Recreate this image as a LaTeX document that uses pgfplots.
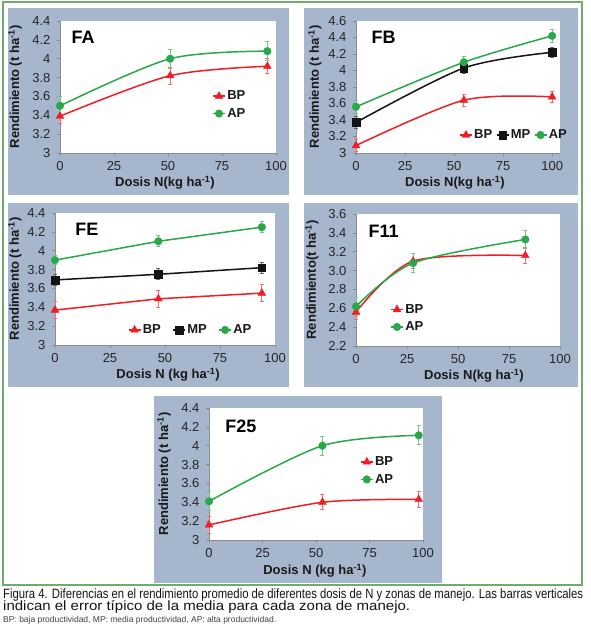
\documentclass[border=0pt]{standalone}
\usepackage{fontspec}
\setmainfont{Liberation Sans}
\usepackage{graphicx}
\usepackage{pgfplots}
\pgfplotsset{compat=1.18}

\definecolor{panelbg}{RGB}{165,182,205}
\definecolor{frameg}{RGB}{112,172,112}
\definecolor{redc}{RGB}{238,30,36}
\definecolor{greenc}{RGB}{40,168,72}
\definecolor{blackc}{RGB}{20,20,20}

\pgfplotsset{
  panel/.style={
    scale only axis, height=132pt, xmin=0, clip=false,
    axis background/.style={fill=white},
    axis lines*=left,
    axis line style={draw=black!45, line width=0.8pt, -},
    tick style={draw=black!45, line width=0.6pt},
    tick align=outside, major tick length=3pt,
    xtick={0,25,50,75,100},
    /pgf/number format/assume math mode=true,
    ticklabel style={font=\fontsize{13}{13}\selectfont, text=black!85},
    yticklabel style={xshift=-3pt},
    xticklabel style={yshift=-2pt},
    every axis y label/.style={rotate=90, anchor=center,
      font=\bfseries\fontsize{13}{13}\selectfont, text=black!90},
    every axis x label/.style={anchor=center,
      font=\bfseries\fontsize{13}{13}\selectfont, text=black!90},
    legend style={draw=none, fill=none, font=\bfseries\fontsize{13}{13}\selectfont,
      text=black!90, inner sep=0pt, row sep=5pt,
      nodes={inner xsep=1.5pt, inner ysep=1pt}},
    legend cell align=left,
    legend image code/.code={\draw[mark repeat=2,mark phase=2]
      plot coordinates {(0pt,0pt) (6pt,0pt) (12pt,0pt)};},
  },
  eb/.style={error bars/y dir=both, error bars/y explicit,
    error bars/error bar style={#1!65, line width=0.9pt},
    error bars/error mark options={#1!65, rotate=90, mark size=2pt, line width=0.9pt}},
  bp/.style={redc, line width=1.5pt, mark=triangle*, mark size=4.5pt,
    mark options={solid, line width=0.4pt}, eb=redc},
  mp/.style={blackc, line width=1.5pt, mark=square*, mark size=3.8pt,
    mark options={solid, line width=0.4pt}, eb=blackc},
  ap/.style={greenc, line width=1.5pt, mark=*, mark size=3.8pt,
    mark options={solid, line width=0.4pt}, eb=greenc},
}

\newcommand{\ttl}[1]{{\bfseries\fontsize{18}{18}\selectfont #1}}
\newcommand{\ylab}{Rendimiento (t ha\textsuperscript{-1})}

\begin{document}
\begin{tikzpicture}
\path[use as bounding box] (0pt,0pt) rectangle (590pt,637pt);
\fill[white] (0pt,0pt) rectangle (590pt,637pt);
\draw[frameg, line width=1.5pt] (3pt,52pt) rectangle (582pt,635pt);

% panel backgrounds
\fill[panelbg] (8pt,442pt) rectangle (289pt,629pt);
\fill[panelbg] (304pt,442pt) rectangle (578pt,629pt);
\fill[panelbg] (8pt,250pt) rectangle (289pt,434pt);
\fill[panelbg] (304pt,250pt) rectangle (578pt,434pt);
\fill[panelbg] (154pt,54pt) rectangle (442pt,241pt);

% FA
\begin{axis}[panel, at={(60pt,484pt)}, anchor=south west, width=216pt,
  xmax=100, ymin=3, ymax=4.4, ytick={3,3.2,3.4,3.6,3.8,4,4.2,4.4},
  xlabel={Dosis N(kg ha\textsuperscript{-1})}, ylabel={\ylab},
  xlabel style={at={(axis description cs:0.486,-0.227)}},
  ylabel style={at={(axis description cs:-0.208,0.5)}},
  legend style={at={(0.704,0.365)}, anchor=west}]
\addplot[bp, smooth] coordinates {(0,3.39) +- (0,0.08) (51,3.82) +- (0,0.09) (96,3.92) +- (0,0.08)};
\addlegendentry{BP}
\addplot[ap, smooth] coordinates {(0,3.50) +- (0,0.10) (51,4.00) +- (0,0.10) (96,4.08) +- (0,0.10)};
\addlegendentry{AP}
\node[anchor=west] at (rel axis cs:0.037,0.879) {\ttl{FA}};
\end{axis}

% FB
\begin{axis}[panel, at={(356pt,484pt)}, anchor=south west, width=204pt,
  xmax=104, ymin=3, ymax=4.6, ytick={3,3.2,3.4,3.6,3.8,4,4.2,4.4,4.6},
  xlabel={Dosis N(kg ha\textsuperscript{-1})}, ylabel={\ylab},
  xlabel style={at={(axis description cs:0.485,-0.227)}},
  ylabel style={at={(axis description cs:-0.201,0.5)}},
  legend columns=3, legend style={at={(0.505,0.136)}, anchor=west,
    /tikz/every even column/.append style={column sep=2pt}}]
\addplot[bp, smooth] coordinates {(0,3.09) +- (0,0.07) (55,3.64) +- (0,0.07) (100,3.68) +- (0,0.07)};
\addlegendentry{BP}
\addplot[mp, smooth] coordinates {(0,3.37) +- (0,0.07) (55,4.03) +- (0,0.06) (100,4.22) +- (0,0.06)};
\addlegendentry{MP}
\addplot[ap, smooth] coordinates {(0,3.56) +- (0,0.08) (55,4.10) +- (0,0.07) (100,4.42) +- (0,0.08)};
\addlegendentry{AP}
\node[anchor=west] at (rel axis cs:0.059,0.875) {\ttl{FB}};
\end{axis}

% FE
\begin{axis}[panel, at={(55pt,292pt)}, anchor=south west, width=220pt,
  xmax=100, ymin=3, ymax=4.4, ytick={3,3.2,3.4,3.6,3.8,4,4.2,4.4},
  xlabel={Dosis N (kg ha\textsuperscript{-1})}, ylabel={\ylab},
  xlabel style={at={(axis description cs:0.514,-0.227)}},
  ylabel style={at={(axis description cs:-0.182,0.5)}},
  legend columns=3, legend style={at={(0.33,0.114)}, anchor=west,
    /tikz/every even column/.append style={column sep=10pt}}]
\addplot[bp] coordinates {(0,3.37) +- (0,0.09) (47,3.49) +- (0,0.09) (94,3.55) +- (0,0.09)};
\addlegendentry{BP}
\addplot[mp] coordinates {(0,3.69) +- (0,0.06) (47,3.75) +- (0,0.06) (94,3.82) +- (0,0.06)};
\addlegendentry{MP}
\addplot[ap] coordinates {(0,3.90) +- (0,0.05) (47,4.10) +- (0,0.06) (94,4.25) +- (0,0.06)};
\addlegendentry{AP}
\node[anchor=west] at (rel axis cs:0.077,0.879) {\ttl{FE}};
\end{axis}

% F11
\begin{axis}[panel, at={(356pt,291pt)}, anchor=south west, width=204pt,
  xmax=100, ymin=2.2, ymax=3.6, ytick={2.2,2.4,2.6,2.8,3.0,3.2,3.4,3.6},
  yticklabel style={/pgf/number format/.cd, fixed, fixed zerofill, precision=1},
  xlabel={Dosis N(kg ha\textsuperscript{-1})}, ylabel={Rendimiento(t ha\textsuperscript{-1})},
  xlabel style={at={(axis description cs:0.578,-0.227)}},
  ylabel style={at={(axis description cs:-0.216,0.5)}},
  legend style={at={(0.167,0.21)}, anchor=west}]
\addplot[bp, smooth] coordinates {(0,2.56) +- (0,0.08) (28,3.10) +- (0,0.08) (83,3.16) +- (0,0.08)};
\addlegendentry{BP}
\addplot[ap, smooth] coordinates {(0,2.62) +- (0,0.10) (28,3.08) +- (0,0.10) (83,3.33) +- (0,0.10)};
\addlegendentry{AP}
\node[anchor=west] at (rel axis cs:0.044,0.87) {\ttl{F11}};
\end{axis}

% F25
\begin{axis}[panel, at={(209pt,97pt)}, anchor=south west, width=214pt,
  xmax=100, ymin=3, ymax=4.4, ytick={3,3.2,3.4,3.6,3.8,4,4.2,4.4},
  xlabel={Dosis N (kg ha\textsuperscript{-1})}, ylabel={\ylab},
  xlabel style={at={(axis description cs:0.495,-0.235)}},
  ylabel style={at={(axis description cs:-0.21,0.5)}},
  legend style={at={(0.705,0.525)}, anchor=west}]
\addplot[bp, smooth] coordinates {(0,3.16) +- (0,0.09) (53,3.40) +- (0,0.08) (98,3.43) +- (0,0.09)};
\addlegendentry{BP}
\addplot[ap, smooth] coordinates {(0,3.41) +- (0,0.10) (53,4.00) +- (0,0.10) (98,4.11) +- (0,0.10)};
\addlegendentry{AP}
\node[anchor=west] at (rel axis cs:0.06,0.865) {\ttl{F25}};
\end{axis}

% caption
\node[anchor=base west, inner sep=0pt, text=black!92] at (3pt,38pt)
  {\resizebox{580pt}{\height}{\fontsize{13.5}{13.5}\selectfont Figura 4. Diferencias en el rendimiento promedio de diferentes dosis de N y zonas de manejo. Las barras verticales}};
\node[anchor=base west, inner sep=0pt, text=black!92] at (3pt,26pt)
  {\resizebox{407pt}{\height}{\fontsize{13.5}{13.5}\selectfont indican el error típico de la media para cada zona de manejo.}};
\node[anchor=base west, inner sep=0pt, text=black!75] at (3pt,14pt)
  {\resizebox{273pt}{\height}{\fontsize{8.5}{8.5}\selectfont BP: baja productividad, MP: media productividad, AP: alta productividad.}};
\end{tikzpicture}
\end{document}
